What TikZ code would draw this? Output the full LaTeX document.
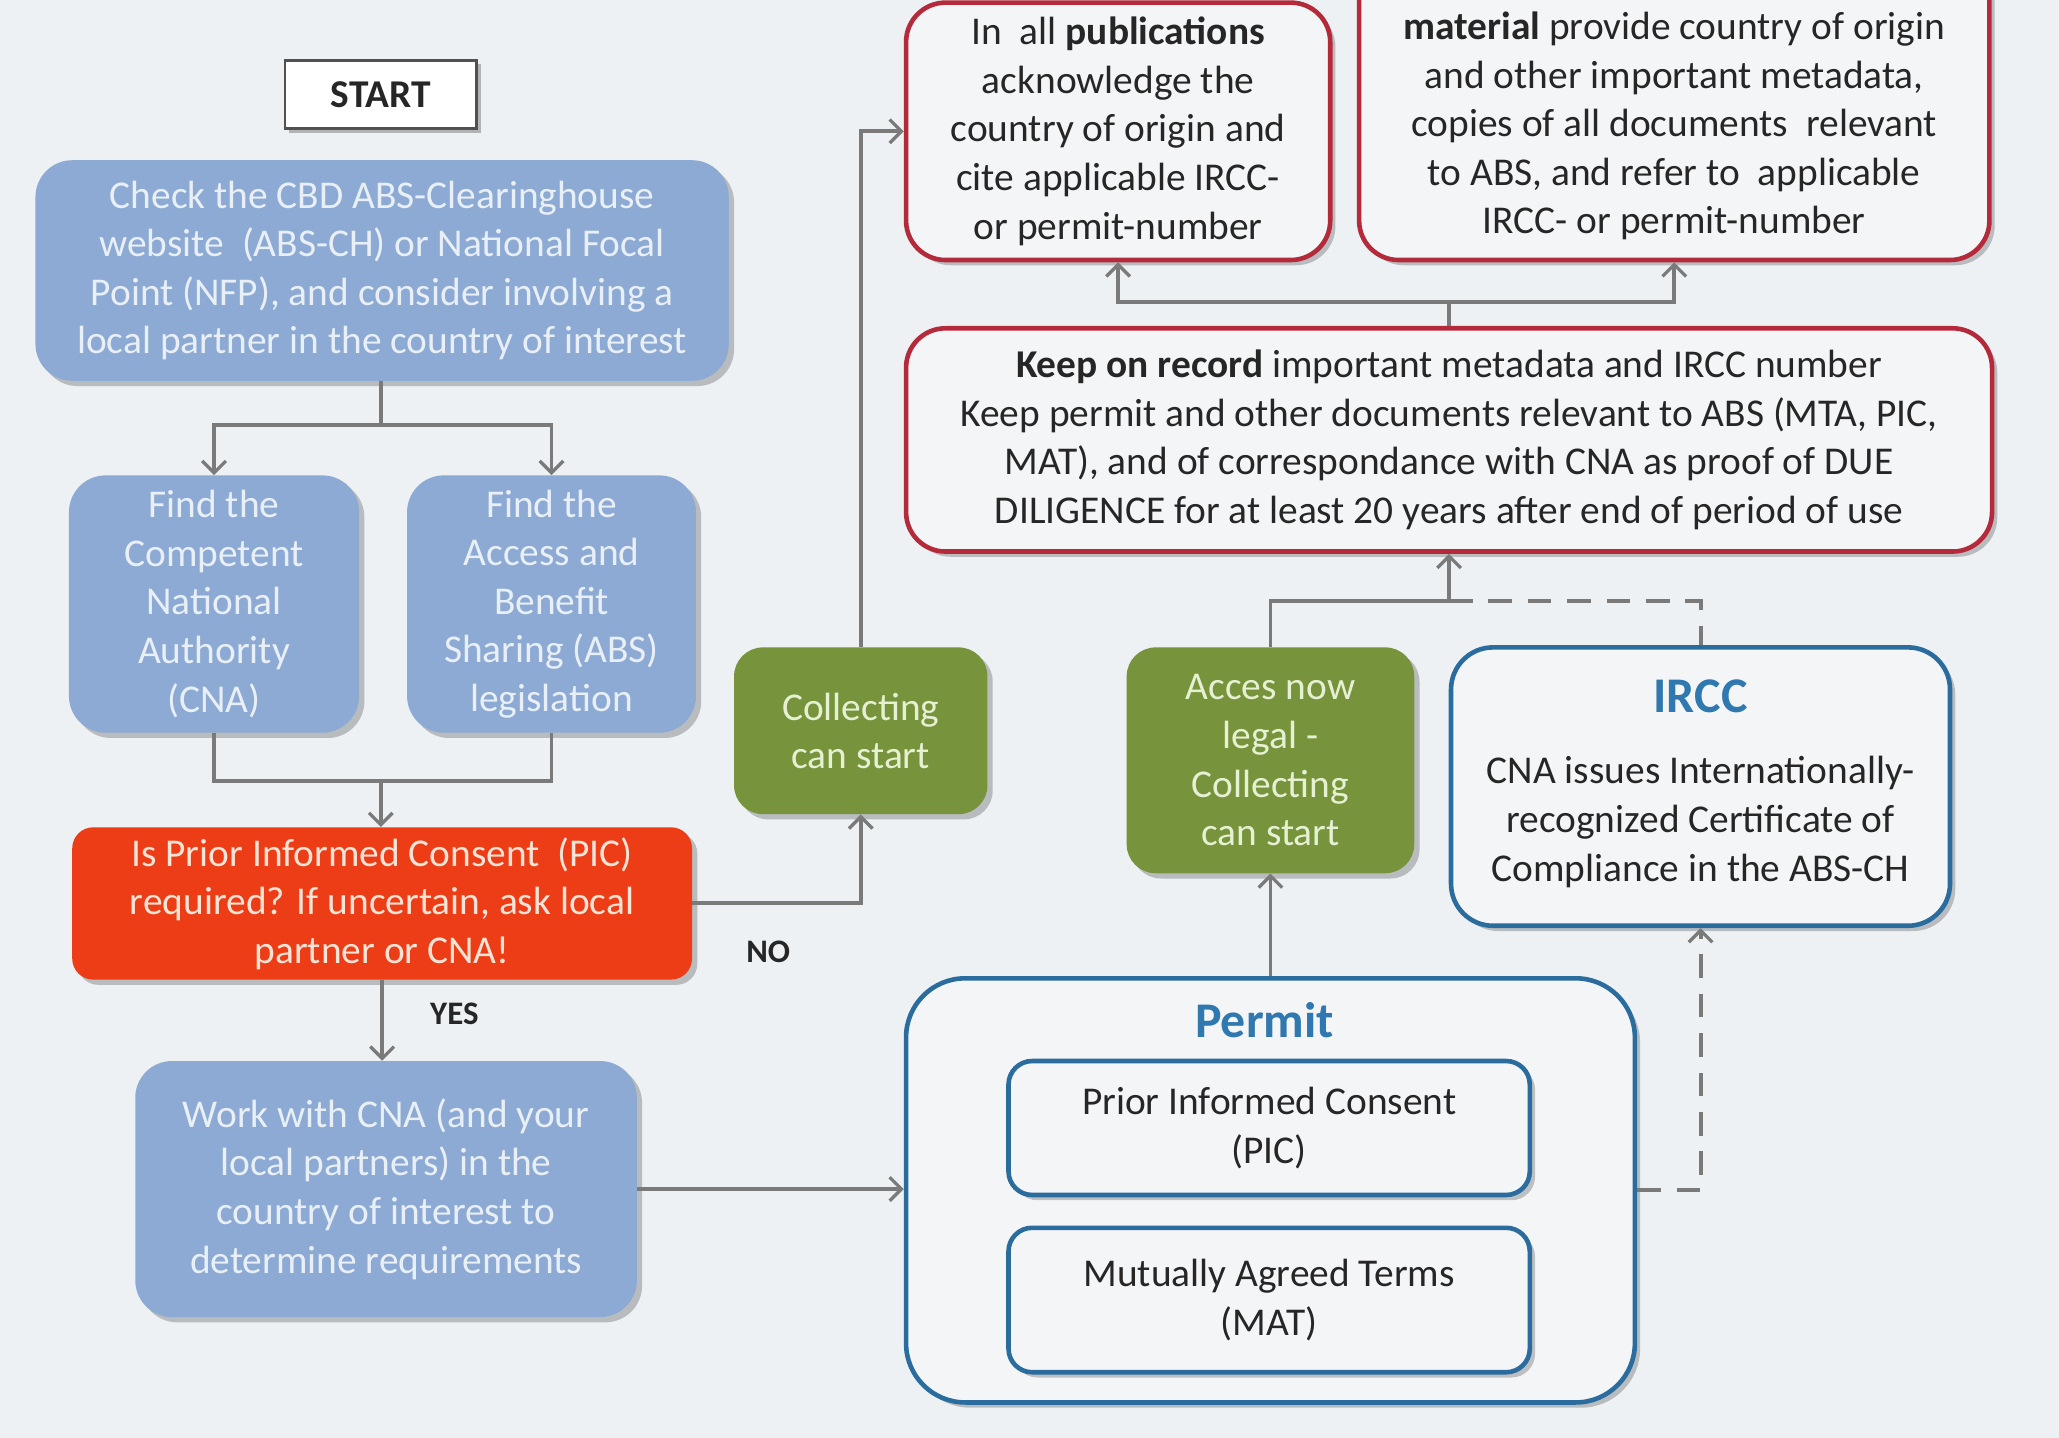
\documentclass[tikz,border=0pt]{standalone}
\usepackage{fontspec}
\setmainfont{Carlito}
\usetikzlibrary{arrows.meta,shadows,calc}
\definecolor{bg}{HTML}{EDF1F4}
\definecolor{bluefill}{HTML}{8CAAD3}
\definecolor{bluetext}{HTML}{E9EFF7}
\definecolor{redfill}{HTML}{EC3D16}
\definecolor{redtext}{HTML}{FBE3D6}
\definecolor{greenfill}{HTML}{77933C}
\definecolor{greentext}{HTML}{E6F0D2}
\definecolor{redborder}{HTML}{B52A3A}
\definecolor{blueborder}{HTML}{2B6C9E}
\definecolor{titleblue}{HTML}{2F78B0}
\definecolor{boxfill}{HTML}{F4F5F7}
\definecolor{linegray}{HTML}{7A7A7A}
\definecolor{darktext}{HTML}{262626}
\begin{document}
\begin{tikzpicture}[x=1pt,y=-1pt,
  base/.style={rectangle, inner sep=0pt, align=center, font=\fontsize{30}{37}\selectfont},
  shad/.style={drop shadow={shadow xshift=4pt, shadow yshift=-4pt, opacity=0.22, fill=black}},
  bluebox/.style={base, shad, fill=bluefill, text=bluetext, rounded corners=28pt},
  redq/.style={base, shad, fill=redfill, text=redtext, rounded corners=16pt},
  greenbox/.style={base, shad, fill=greenfill, text=greentext, rounded corners=22pt},
  redframe/.style={base, shad, fill=boxfill, draw=redborder, line width=3.5pt, text=darktext, rounded corners=30pt},
  blueframe/.style={base, shad, fill=boxfill, draw=blueborder, line width=3.5pt, text=darktext, rounded corners=32pt},
  innerframe/.style={base, shad, fill=boxfill, draw=blueborder, line width=3.5pt, text=darktext, rounded corners=18pt},
  startbox/.style={base, fill=white, draw=darktext!80, line width=2pt, text=darktext, drop shadow={shadow xshift=3pt, shadow yshift=-3pt, opacity=0.25, fill=black}},
  lbl/.style={inner sep=0pt, text=darktext, font=\fontsize{25}{30}\selectfont\bfseries},
  ttl/.style={inner sep=0pt, text=titleblue, font=\fontsize{38}{44}\selectfont\bfseries},
  conn/.style={draw=linegray, line width=3pt},
  arr/.style={conn, -{Straight Barb[length=9pt,width=18pt,line width=2.5pt]}},
  dsh/.style={dash pattern=on 18pt off 12pt}
]
\useasboundingbox (0,0) rectangle (1568,1095);
\clip (0,0) rectangle (1568,1095);
\fill[bg] (0,0) rectangle (1568,1095);

% left column
\node[startbox, minimum width=146pt, minimum height=52pt, font=\fontsize{30}{37}\selectfont\bfseries] (start) at (290,72) {START};
\node[bluebox, minimum width=528pt, minimum height=168pt] (check) at (291,206)
  {Check the CBD ABS-Clearinghouse\\website\ \ (ABS-CH) or National Focal\\Point (NFP), and consider involving a\\local partner in the country of interest};
\node[bluebox, minimum width=221pt, minimum height=196pt] (cna) at (163,460)
  {Find the\\Competent\\National\\Authority\\(CNA)};
\node[bluebox, minimum width=220pt, minimum height=196pt] (absleg) at (420,460)
  {Find the\\Access and\\Benefit\\Sharing (ABS)\\legislation};
\node[redq, minimum width=472pt, minimum height=116pt] (picq) at (291,688)
  {Is Prior Informed Consent\ \ (PIC)\\required? If uncertain, ask local\\partner or CNA!};
\node[bluebox, minimum width=382pt, minimum height=195pt] (work) at (294,905.5)
  {Work with CNA (and your\\local partners) in the\\country of interest to\\determine requirements};

% middle
\node[greenbox, minimum width=193pt, minimum height=127pt] (collect) at (655.5,556.5)
  {Collecting\\can start};
\node[greenbox, minimum width=219pt, minimum height=172pt] (acces) at (967.5,579)
  {Acces now\\legal -\\Collecting\\can start};

% top right
\node[redframe, minimum width=323pt, minimum height=196pt] (pubs) at (851.5,100)
  {In\ \ all \textbf{publications}\\acknowledge the\\country of origin and\\cite applicable IRCC-\\or permit-number};
\node[redframe, minimum width=480pt, minimum height=240pt] (material) at (1275,78) {};
\node[base, text=darktext] (materialtxt) at (1275,96)
  {\textbf{material} provide country of origin\\and other important metadata,\\copies of all documents\ \ relevant\\to ABS, and refer to\ \ applicable\\IRCC- or permit-number};
\node[redframe, minimum width=827pt, minimum height=170pt] (keep) at (1103.5,335)
  {\textbf{Keep on record} important metadata and IRCC number\\Keep permit and other documents relevant to ABS (MTA, PIC,\\MAT), and of correspondance with CNA as proof of DUE\\DILIGENCE for at least 20 years after end of period of use};

% IRCC
\node[blueframe, minimum width=380pt, minimum height=212pt] (ircc) at (1295,599) {};
\node[ttl] (irccttl) at (1295,530) {IRCC};
\node[base, text=darktext] (ircctxt) at (1295,626)
  {CNA issues Internationally-\\recognized Certificate of\\Compliance in the ABS-CH};

% Permit
\node[blueframe, minimum width=555pt, minimum height=323pt, rounded corners=45pt] (permit) at (967.5,906.5) {};
\node[ttl] (permitttl) at (963,777) {Permit};
\node[innerframe, minimum width=397pt, minimum height=102pt] (picin) at (966.5,859)
  {Prior Informed Consent\\(PIC)};
\node[innerframe, minimum width=397pt, minimum height=110pt] (matin) at (966.5,990)
  {Mutually Agreed Terms\\(MAT)};

% connectors
\coordinate (j1) at (290,324);
\draw[conn] (290,290) -- (j1);
\draw[arr] (j1) -| (cna.north);
\draw[arr] (j1) -| (absleg.north);
\coordinate (j2) at (290,595);
\draw[conn] (cna.south) |- (j2) -| (absleg.south);
\draw[arr] (j2) -- (j2 |- picq.north);
\draw[arr] (picq.east) -| (collect.south);
\node[lbl] (no) at (585,725) {NO};
\draw[arr] (picq.south) -- (picq.south |- work.north);
\node[lbl] (yes) at (346,772) {YES};
\draw[arr] (work.east) -- (work.east -| permit.west);
\draw[arr] (collect.north) |- (pubs.west);
\draw[arr] (permit.north) -- (acces.south);
\coordinate (j3) at (1103.5,458);
\draw[conn] (acces.north) |- (j3);
\draw[arr] (j3) -- (keep.south);
\draw[conn, dsh] (j3) -| (ircc.north);
\draw[arr, dsh] (permit.east) -| (ircc.south);
\coordinate (j4) at (1103.5,230);
\draw[conn] (keep.north) -- (j4);
\draw[arr] (j4) -| (pubs.south);
\draw[arr] (j4) -| (material.south);
\end{tikzpicture}
\end{document}
